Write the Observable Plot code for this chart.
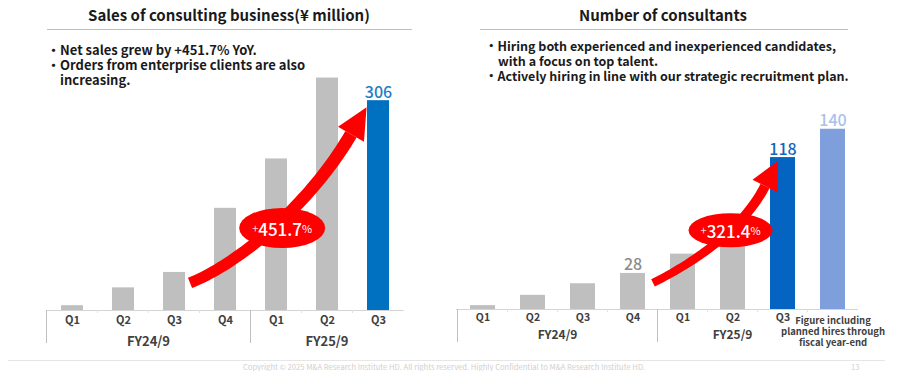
<!DOCTYPE html>
<html><head><meta charset="utf-8">
<script src="https://cdn.jsdelivr.net/npm/d3@7"></script>
<script src="https://cdn.jsdelivr.net/npm/@observablehq/plot@0.6"></script>
<style>
body{margin:0;background:#fff;}
#wrap{position:relative;width:900px;height:371px;overflow:hidden;font-family:"Noto Sans CJK JP","Noto Sans",sans-serif;color:#1a1a1a;}
.panel{position:absolute;top:0;}
.title{position:absolute;top:5px;font-weight:700;font-size:15px;line-height:20px;text-align:center;white-space:nowrap;transform:translateX(-50%);}
.hr{position:absolute;top:29px;height:1px;background:#bfbfbf;}
.bul{position:absolute;font-weight:700;font-size:13px;line-height:14px;white-space:nowrap;}
.bul.r{font-size:12.5px;}
.foot{position:absolute;font-size:7.6px;line-height:8px;color:#d0d0d0;white-space:nowrap;}
</style></head><body><div id="wrap"></div>
<script>
// ---------- data ----------
const salesQuarters = ["Q1","Q2","Q3","Q4","Q1","Q2","Q3"];
const salesYears    = ["FY24/9","FY24/9","FY24/9","FY24/9","FY25/9","FY25/9","FY25/9"];
const salesValues   = [7, 33, 55.5, 149, 221, 339, 306];
const salesGrowth   = "451.7";

const consultQuarters = ["Q1","Q2","Q3","Q4","Q1","Q2","Q3","Plan"];
const consultYears    = ["FY24/9","FY24/9","FY24/9","FY24/9","FY25/9","FY25/9","FY25/9","Plan"];
const consultValues   = [3, 11, 20, 28, 43, 60, 118, 140];
const consultGrowth   = "321.4";
const planNote = "Figure including\nplanned hires through\nfiscal year-end";

const GRAY = "#bfbfbf";

function rowsOf(quarters, years, values) {
  return quarters.map((q, i) => ({key: years[i] + " " + q, q, fy: years[i], v: values[i]}));
}

function bandInfo(x) {
  const bw = typeof x.bandwidth === "function" ? x.bandwidth() : x.bandwidth;
  const dom = x.domain();
  const step = dom.length > 1 ? x(dom[1]) - x(dom[0]) : bw;
  return {bw, step};
}

// axis decoration: group separators, tiny ticks and fiscal-year labels
function groupAxis(rows, opt) {
  return (index, scales) => {
    const x = scales.x, y = scales.y;
    const {bw, step} = bandInfo(x);
    const y0 = y(0);
    const g = d3.create("svg:g");
    const edge = k => x(k) - (step - bw) / 2;
    rows.forEach(r => {
      g.append("line").attr("x1", edge(r.key)).attr("x2", edge(r.key))
        .attr("y1", y0).attr("y2", y0 + 3).attr("stroke", "#e2e2e2");
    });
    const groups = d3.groups(rows.filter(r => opt.groups.includes(r.fy)), r => r.fy);
    groups.forEach(([fy, rs]) => {
      const a = edge(rs[0].key), b = edge(rs[rs.length - 1].key) + step;
      g.append("line").attr("x1", a).attr("x2", a).attr("y1", y0).attr("y2", y0 + opt.sepLen)
        .attr("stroke", "#bfbfbf");
      g.append("text").attr("x", (a + b) / 2).attr("y", y0 + opt.fyDy)
        .attr("text-anchor", "middle").attr("dominant-baseline", "central")
        .attr("font-size", opt.fyFont).attr("font-weight", 700).attr("fill", "#404040")
        .text(fy);
    });
    return g.node();
  };
}

// curved growth arrow with ellipse badge
function growthArrow(p) {
  return (index, scales) => {
    const x = scales.x, y = scales.y;
    const {bw} = bandInfo(x);
    const S = [x(p.fromKey) + bw + p.s[0], y(p.fromValue) + p.s[1]];
    const E = [x(p.toKey) + p.e[0], y(p.toValue) + p.e[1]];
    const L = Math.hypot(p.dir[0], p.dir[1]);
    const d = [p.dir[0] / L, p.dir[1] / L];
    const C1 = [S[0] + p.c1[0], S[1] + p.c1[1]];
    const C2 = [E[0] - d[0] * p.k, E[1] - d[1] * p.k];
    const B = t => {
      const u = 1 - t;
      return [u*u*u*S[0] + 3*u*u*t*C1[0] + 3*u*t*t*C2[0] + t*t*t*E[0],
              u*u*u*S[1] + 3*u*u*t*C1[1] + 3*u*t*t*C2[1] + t*t*t*E[1]];
    };
    const D = t => {
      const u = 1 - t;
      return [3*u*u*(C1[0]-S[0]) + 6*u*t*(C2[0]-C1[0]) + 3*t*t*(E[0]-C2[0]),
              3*u*u*(C1[1]-S[1]) + 6*u*t*(C2[1]-C1[1]) + 3*t*t*(E[1]-C2[1])];
    };
    const N = 48, left = [], right = [];
    for (let i = 0; i <= N; i++) {
      const t = i / N, P = B(t), T = D(t), l = Math.hypot(T[0], T[1]);
      const n = [-T[1] / l, T[0] / l], w = (p.w0 + (p.w1 - p.w0) * t) / 2;
      left.push([P[0] + n[0] * w, P[1] + n[1] * w]);
      right.push([P[0] - n[0] * w, P[1] - n[1] * w]);
    }
    const g = d3.create("svg:g");
    const poly = left.concat(right.reverse());
    g.append("path").attr("d", "M" + poly.map(q => q.join(",")).join("L") + "Z").attr("fill", p.color);
    const n = [-d[1], d[0]];
    const head = [[E[0] + n[0]*p.hh, E[1] + n[1]*p.hh], [E[0] + d[0]*p.hl, E[1] + d[1]*p.hl],
                  [E[0] - n[0]*p.hh, E[1] - n[1]*p.hh]];
    g.append("path").attr("d", "M" + head.map(q => q.join(",")).join("L") + "Z").attr("fill", p.color);
    const M = B(0.5);
    const cx = M[0] + p.eo[0], cy = M[1] + p.eo[1];
    g.append("ellipse").attr("cx", cx).attr("cy", cy).attr("rx", p.rx).attr("ry", p.ry).attr("fill", p.color);
    const tx = g.append("text").attr("x", cx).attr("y", cy).attr("text-anchor", "middle")
      .attr("dominant-baseline", "central").attr("fill", "#fff");
    tx.append("tspan").attr("font-size", 11).attr("fill", "#f4dcdc").text("+");
    tx.append("tspan").attr("font-size", 17).attr("font-weight", 500).text(p.label);
    tx.append("tspan").attr("font-size", 11).text("%");
    return g.node();
  };
}

function panel(o) {
  const rows = rowsOf(o.quarters, o.years, o.values);
  const keys = rows.map(r => r.key);
  const qRows = rows.filter(r => r.q !== "Plan");
  const planRows = rows.filter(r => r.q === "Plan");
  return Plot.plot({
    width: 450, height: 371,
    marginLeft: o.ml, marginRight: o.mr, marginTop: o.mt, marginBottom: o.mb,
    style: {background: "transparent", fontFamily: '"Noto Sans CJK JP","Noto Sans",sans-serif', overflow: "visible"},
    x: {domain: keys, paddingInner: o.pi, paddingOuter: o.pi / 2, axis: null},
    y: {domain: [0, o.ymax], axis: null},
    color: {type: "identity"},
    marks: [
      Plot.barY(rows, {x: "key", y: "v", fill: d => o.fillOf(d.key)}),
      Plot.ruleY([0], {stroke: "#d4d4d4"}),
      groupAxis(rows, {groups: ["FY24/9", "FY25/9"], sepLen: 33, fyDy: o.fyDy, fyFont: o.fyFont}),
      Plot.text(qRows, {x: "key", text: "q", frameAnchor: "bottom", dy: o.qDy, fontSize: o.qFont,
        fontWeight: 700, fill: "#404040"}),
      Plot.text(planRows, {x: "key", text: () => planNote, frameAnchor: "bottom", dy: 7, lineAnchor: "top",
        fontSize: 9.5, lineHeight: 1.15, fontWeight: 700, fill: "#404040"}),
      growthArrow(o.arrow),
      Plot.text(rows.filter(r => o.labelKeys.includes(r.key)), {x: "key", y: "v", text: d => String(d.v),
        dy: -3, lineAnchor: "bottom", fontSize: 16, fontWeight: 500, fill: d => o.labelColorOf(d.key)})
    ]
  });
}

const wrap = document.getElementById("wrap");

const left = panel({
  quarters: salesQuarters, years: salesYears, values: salesValues,
  ml: 46.5, mr: 46.5, mt: 70, mb: 61, ymax: 350, pi: 0.57,
  qDy: 13, qFont: 11, fyDy: 30, fyFont: 13,
  fillOf: k => k === "FY25/9 Q3" ? "#0070c0" : GRAY,
  labelKeys: ["FY25/9 Q3"],
  labelColorOf: () => "#1f7dc6",
  arrow: {fromKey: "FY24/9 Q3", fromValue: 55.5, toKey: "FY25/9 Q3", toValue: 306,
    s: [5, 11], e: [-16, 34], c1: [50, -20], dir: [0.5, -0.86], k: 80,
    w0: 11, w1: 13, hh: 15, hl: 31, eo: [8, 1], rx: 43, ry: 20, color: "#ff0000", label: salesGrowth}
});
left.classList.add("panel"); left.style.left = "0px";
wrap.appendChild(left);

const right = panel({
  quarters: consultQuarters, years: consultYears, values: consultValues,
  ml: 6, mr: 42, mt: 103, mb: 62, ymax: 160, pi: 0.5,
  qDy: 11, qFont: 10.5, fyDy: 24, fyFont: 12,
  fillOf: k => k === "FY25/9 Q3" ? "#0563c1" : k === "Plan Plan" ? "#7f9fdc" : GRAY,
  labelKeys: ["FY24/9 Q4", "FY25/9 Q3", "Plan Plan"],
  labelColorOf: k => k === "FY25/9 Q3" ? "#1565b8" : k === "Plan Plan" ? "#a9c1ec" : "#8a8a8a",
  arrow: {fromKey: "FY24/9 Q4", fromValue: 28, toKey: "FY25/9 Q3", toValue: 118,
    s: [8, 10], e: [-5, 29], c1: [48, -24], dir: [0.45, -0.89], k: 44,
    w0: 8, w1: 10, hh: 14, hl: 28, eo: [11, -10], rx: 42, ry: 17, color: "#ff0000", label: consultGrowth}
});
right.classList.add("panel"); right.style.left = "450px";
wrap.appendChild(right);

// ---------- text blocks ----------
function add(cls, text, css) {
  const el = document.createElement("div");
  el.className = cls; el.textContent = text;
  Object.assign(el.style, css);
  wrap.appendChild(el);
  return el;
}
add("title", "Sales of consulting business(¥ million)", {left: "229px"});
add("hr", "", {left: "47px", width: "365px"});
add("title", "Number of consultants", {left: "663px"});
add("hr", "", {left: "480px", width: "368px"});

add("bul", "・Net sales grew by +451.7% YoY.", {left: "47px", top: "43px"});
add("bul", "・Orders from enterprise clients are also", {left: "47px", top: "58px"});
add("bul", "increasing.", {left: "60px", top: "73px"});

add("bul r", "・Hiring both experienced and inexperienced candidates,", {left: "485px", top: "39px"});
add("bul r", "with a focus on top talent.", {left: "498px", top: "54px"});
add("bul r", "・Actively hiring in line with our strategic recruitment plan.", {left: "485px", top: "69px"});

add("hr", "", {left: "8px", width: "877px", top: "360px", background: "#e6e6e6"});
add("foot", "Copyright © 2025 M&A Research Institute HD. All rights reserved. Highly Confidential to M&A Research Institute HD.", {left: "243px", top: "363px"});
add("foot", "13", {left: "851px", top: "363px"});
</script></body></html>
